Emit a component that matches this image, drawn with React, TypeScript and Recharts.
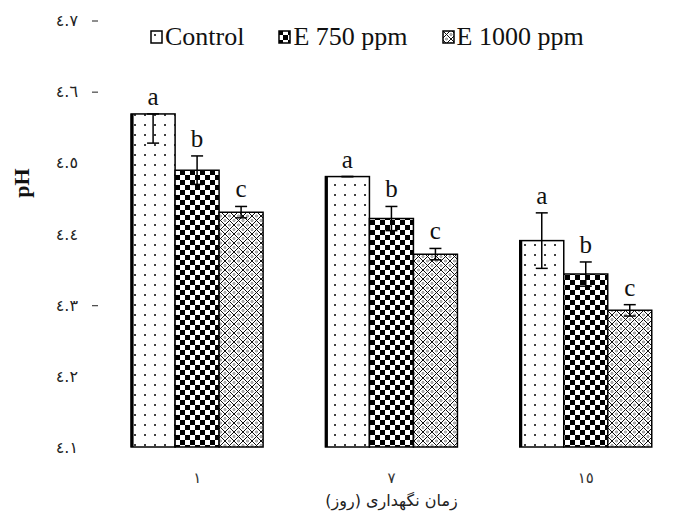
import React from 'react';
import { BarChart, Bar, XAxis, YAxis, ErrorBar, LabelList, Legend } from 'recharts';

const DAYS = ['١', '٧', '١٥'];
const SERIES_NAMES = ['Control', 'E 750 ppm', 'E 1000 ppm'];

const CONTROL = [4.568, 4.48, 4.39];
const E750 = [4.489, 4.421, 4.343];
const E1000 = [4.43, 4.371, 4.292];

// error bars as [down, up]
const CONTROL_ERR = [[0.041, 0], [0, 0], [0.039, 0.039]];
const E750_ERR = [[0.02, 0.02], [0.017, 0.017], [0.017, 0.017]];
const E1000_ERR = [[0.008, 0.008], [0.008, 0.008], [0.008, 0.008]];

const CONTROL_LETTERS = ['a', 'a', 'a'];
const E750_LETTERS = ['b', 'b', 'b'];
const E1000_LETTERS = ['c', 'c', 'c'];

const Y_TICKS = [4.1, 4.2, 4.3, 4.4, 4.5, 4.6, 4.7];
const Y_TICK_LABELS = ['٤.١', '٤.٢', '٤.٣', '٤.٤', '٤.٥', '٤.٦', '٤.٧'];
const Y_DASHED = [4.3, 4.6, 4.7];
const Y_MIN = 4.1;

const X_TITLE = 'زمان نگهداری (روز)';
const Y_TITLE = 'pH';

const data = DAYS.map((day, i) => ({
  day,
  control: CONTROL[i],
  e750: E750[i],
  e1000: E1000[i],
  controlErr: CONTROL_ERR[i],
  e750Err: E750_ERR[i],
  e1000Err: E1000_ERR[i],
  controlLet: CONTROL_LETTERS[i],
  e750Let: E750_LETTERS[i],
  e1000Let: E1000_LETTERS[i],
}));

const SERIF = 'Liberation Serif';
const ARABIC = 'DejaVu Sans';

const letterLabel = (vals: number[], errs: number[][]) => (p: any) => {
  const x = Number(p.x), y = Number(p.y), w = Number(p.width), h = Number(p.height);
  const i = p.index;
  const pxPerUnit = h / (vals[i] - Y_MIN);
  const top = y - errs[i][1] * pxPerUnit;
  return (
    <text x={x + w / 2} y={top - 9} textAnchor="middle" fontFamily={SERIF} fontSize={25} fill="#111">
      {p.value}
    </text>
  );
};

const ControlShape = (p: any) => {
  const { x, y, width, height } = p;
  return (
    <g>
      <rect x={x} y={y} width={width} height={height} fill="url(#dots)" stroke="#000" strokeWidth={1.5} />
      <line x1={x + 1} y1={y} x2={x + 1} y2={y + height} stroke="#000" strokeWidth={3} />
    </g>
  );
};

const YTick = (p: any) => {
  const v = p.payload.value;
  const idx = Y_TICKS.indexOf(v);
  return (
    <g>
      <text x={p.x - 22} y={p.y + 6} textAnchor="end" fontFamily={ARABIC} fontSize={16} fill="#222">
        {Y_TICK_LABELS[idx]}
      </text>
      {Y_DASHED.includes(v) && <line x1={p.x - 8} y1={p.y + 1} x2={p.x - 2} y2={p.y + 1} stroke="#444" strokeWidth={1.2} />}
    </g>
  );
};

const XTick = (p: any) => (
  <text x={p.x} y={p.y + 36} textAnchor="middle" fontFamily={ARABIC} fontSize={15} fill="#333">
    {p.payload.value}
  </text>
);

const LEGEND_FILLS = ['url(#dots)', 'url(#checker)', 'url(#cross)'];

const LegendContent = () => (
  <div style={{ display: 'flex', alignItems: 'center', fontFamily: SERIF, fontSize: 26, color: '#111', whiteSpace: 'nowrap' }}>
    {SERIES_NAMES.map((name, i) => (
      <div key={name} style={{ display: 'flex', alignItems: 'center', marginRight: 34 }}>
        <svg width={13} height={14} style={{ marginRight: 2 }}>
          <rect x={1} y={1} width={11} height={12} fill={LEGEND_FILLS[i]} stroke="#000" strokeWidth={1.5} />
        </svg>
        <span style={{ fontFamily: SERIF }}>{name}</span>
      </div>
    ))}
  </div>
);

export default function App() {
  return (
    <div style={{ position: 'absolute', left: 0, top: 0, background: '#fff' }}>
      <BarChart
        width={690}
        height={514}
        data={data}
        margin={{ top: 20, right: 7, left: 0, bottom: 7 }}
        barGap={0}
        barCategoryGap="16%"
      >
        <defs>
          <pattern id="dots" width={10} height={10} patternUnits="userSpaceOnUse">
            <rect width={10} height={10} fill="#fff" />
            <circle cx={5} cy={5} r={1} fill="#000" />
          </pattern>
          <pattern id="checker" width={10} height={10} patternUnits="userSpaceOnUse">
            <rect width={10} height={10} fill="#fff" />
            <rect x={0} y={0} width={5} height={5} fill="#000" />
            <rect x={5} y={5} width={5} height={5} fill="#000" />
          </pattern>
          <pattern id="cross" width={9} height={9} patternUnits="userSpaceOnUse">
            <rect width={9} height={9} fill="#fff" />
            <path d="M0,0 L9,9 M9,0 L0,9" stroke="#111" strokeWidth={1} />
            <circle cx={4.5} cy={0} r={1} fill="none" stroke="#333" strokeWidth={0.6} />
            <circle cx={4.5} cy={9} r={1} fill="none" stroke="#333" strokeWidth={0.6} />
            <circle cx={0} cy={4.5} r={1} fill="none" stroke="#333" strokeWidth={0.6} />
            <circle cx={9} cy={4.5} r={1} fill="none" stroke="#333" strokeWidth={0.6} />
          </pattern>
        </defs>
        <XAxis
          dataKey="day"
          axisLine={false}
          tickLine={false}
          tickSize={0}
          tickMargin={0}
          height={60}
          tick={XTick}
          label={(p: any) => {
            const vb = p.viewBox;
            return (
              <text
                x={vb.x + vb.width / 2}
                y={vb.y + 59}
                textAnchor="middle"
                fontFamily={ARABIC}
                fontSize={16}
                fill="#222"
                style={{ direction: 'rtl', unicodeBidi: 'embed' }}
              >
                {X_TITLE}
              </text>
            );
          }}
        />
        <YAxis
          domain={[4.1, 4.7]}
          ticks={Y_TICKS}
          axisLine={false}
          tickLine={false}
          tickSize={0}
          tickMargin={0}
          width={100}
          tick={YTick}
          label={(p: any) => {
            const vb = p.viewBox;
            return (
              <text
                x={vb.x + 21}
                y={183}
                transform={`rotate(-90 ${vb.x + 21} 183)`}
                textAnchor="middle"
                dominantBaseline="central"
                fontFamily={SERIF}
                fontWeight="bold"
                fontSize={22}
                fill="#111"
              >
                {Y_TITLE}
              </text>
            );
          }}
        />
        <Legend
          layout="vertical"
          align="center"
          verticalAlign="middle"
          wrapperStyle={{ top: 22, left: 150, width: 520 }}
          content={LegendContent}
        />
        <Bar dataKey="control" name={SERIES_NAMES[0]} shape={ControlShape} isAnimationActive={false}>
          <ErrorBar dataKey="controlErr" width={6} stroke="#000" strokeWidth={1.5} direction="y" />
          <LabelList dataKey="controlLet" content={letterLabel(CONTROL, CONTROL_ERR)} />
        </Bar>
        <Bar dataKey="e750" name={SERIES_NAMES[1]} fill="url(#checker)" stroke="#000" strokeWidth={1.5} isAnimationActive={false}>
          <ErrorBar dataKey="e750Err" width={6} stroke="#000" strokeWidth={1.5} direction="y" />
          <LabelList dataKey="e750Let" content={letterLabel(E750, E750_ERR)} />
        </Bar>
        <Bar dataKey="e1000" name={SERIES_NAMES[2]} fill="url(#cross)" stroke="#000" strokeWidth={1.5} isAnimationActive={false}>
          <ErrorBar dataKey="e1000Err" width={6} stroke="#000" strokeWidth={1.5} direction="y" />
          <LabelList dataKey="e1000Let" content={letterLabel(E1000, E1000_ERR)} />
        </Bar>
      </BarChart>
    </div>
  );
}
